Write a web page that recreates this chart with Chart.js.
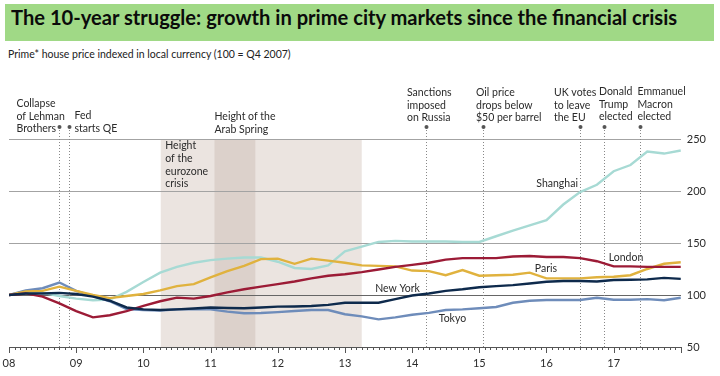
<!DOCTYPE html>
<html>
<head>
<meta charset="utf-8">
<script src="https://cdn.jsdelivr.net/npm/chart.js@4.4.0/dist/chart.umd.min.js"></script>
<style>
  body { margin: 0; width: 720px; height: 376px; overflow: hidden; background: #fff; position: relative; font-family: Lato, sans-serif; }
  #bar { position: absolute; left: 5px; top: 4px; width: 709px; height: 37px; background: #a0d986; }
  #title { position: absolute; left: 11px; top: 4px; line-height: 37px; font: bold 21px Lato; color: #0b0b0b; white-space: nowrap; transform-origin: 0 50%; }
  #sub { position: absolute; left: 8px; top: 48px; font-size: 10.5px; color: #222; }
  #wrap { position: absolute; left: 0; top: 0; width: 720px; height: 376px; }
</style>
</head>
<body>
<div id="bar"></div>
<div id="title">The 10-year struggle: growth in prime city markets since the financial crisis</div>
<div id="sub">Prime* house price indexed in local currency (100 = Q4 2007)</div>
<div id="wrap"><canvas id="chart" width="720" height="376"></canvas></div>
<script>
// quarterly index, 100 = Q4 2007
const quarters = ['Q4 07','Q1 08','Q2 08','Q3 08','Q4 08','Q1 09','Q2 09','Q3 09','Q4 09','Q1 10','Q2 10','Q3 10','Q4 10','Q1 11','Q2 11','Q3 11','Q4 11','Q1 12','Q2 12','Q3 12','Q4 12','Q1 13','Q2 13','Q3 13','Q4 13','Q1 14','Q2 14','Q3 14','Q4 14','Q1 15','Q2 15','Q3 15','Q4 15','Q1 16','Q2 16','Q3 16','Q4 16','Q1 17','Q2 17','Q3 17','Q4 17'];

const shanghai = [100,103.5,102,99,96.5,95,95.5,103,112.5,121.5,127,131,133.5,135,136,136,132,126,125,128.5,142,146.5,151,152,151.5,151.5,151.5,151,151,156.5,162,167,172,187,199,206,219,225,238,236,239];
const london   = [100,101.5,98.5,92,84.5,78.5,80.5,84.5,89.5,94,97.5,96.5,99,102.5,105.5,108,110.5,113,116,118.5,120,122,124.5,127,129,131,134,135.5,135.5,135.5,137,137.5,136.5,136.5,135.5,132.5,127.5,127.5,127,127,127];
const paris    = [100,103.5,104,108,104,100,97,99,101,104.5,108.5,110.5,117,123,128,134.5,135,130,135,133,131,128.5,128,127.5,123.5,123,119,124,118.5,119,119.5,121.5,116,116,116,117,117.5,119,125,130,131.5];
const newYork  = [100,101.5,101.5,102,101,98.5,94.5,88,86.2,85.6,86.2,87,88,87.5,87.2,88,88.8,89,89.4,90.5,92.5,92.6,92.6,96,99.5,101.5,104,105.5,107.5,108.5,109.5,111,112.8,113.5,113.5,113,114.4,114.6,115,116.5,115.5];
const tokyo    = [100,104.5,106.5,112,104,99,94,86.5,85.6,85,86.3,86.2,86.2,84,82.5,82.7,83.5,84.6,85.6,85.6,81.5,79.5,76.6,78.5,81,82.8,85.6,86.2,87.2,88.5,92.5,94.5,95.2,95.2,95.2,97.4,95.5,95.5,96,95,97.4];

const yearLabels = ['08','09','10','11','12','13','14','15','16','17'];
const yTicks = [50, 100, 150, 200, 250];

// x axis runs in months from start of 2008
const toPoints = arr => arr.map((v, i) => ({ x: i * 3, y: v }));

// periods shaded on the chart (months)
const periods = [
  { from: 27.1, to: 63, color: '#ebe4e0' },
  { from: 36.7, to: 44, color: '#dcd1cb' }
];

// events: month, text lines, text x offset from the line, y of first line
const events = [
  { m: 8.9,  lines: ['Collapse', 'of Lehman', 'Brothers'], dx: -43, y: 104 },
  { m: 10.7, lines: ['Fed', 'starts QE'], dx: 5, y: 116 },
  { m: 74.5, lines: ['Sanctions', 'imposed', 'on Russia'], dx: -19.5, y: 93 },
  { m: 84.6, lines: ['Oil price', 'drops below', '$50 per barrel'], dx: -7.5, y: 93 },
  { m: 102,  lines: ['UK votes', 'to leave', 'the EU'], dx: -26.5, y: 93 },
  { m: 106.3, lines: ['Donald', 'Trump', 'elected'], dx: -5.5, y: 92 },
  { m: 112.7, lines: ['Emmanuel', 'Macron', 'elected'], dx: -3, y: 92 }
];

const periodNotes = [
  { m: 27.1, lines: ['Height', 'of the', 'eurozone', 'crisis'], dx: 4.5, y: 146 },
  { m: 36.7, lines: ['Height of the', 'Arab Spring'], dx: 0, y: 117 }
];

const seriesNotes = [
  { text: 'Shanghai', m: 97.9, v: 206.7 },
  { text: 'London', m: 110.2, v: 135.9 },
  { text: 'Paris', m: 95.9, v: 125.7 },
  { text: 'New York', m: 69.4, v: 106.4 },
  { text: 'Tokyo', m: 79.2, v: 77.6 }
];

const labelFont = '10.5px Lato';
const textColor = '#2b2b2b';

const decor = {
  id: 'decor',
  beforeDraw(chart) {
    const { ctx, chartArea: a, scales: { x } } = chart;
    ctx.save();
    periods.forEach(p => {
      const l = x.getPixelForValue(p.from), r = x.getPixelForValue(p.to);
      ctx.fillStyle = p.color;
      ctx.fillRect(l, a.top, r - l, a.bottom - a.top);
    });
    ctx.restore();
  },
  beforeDatasetsDraw(chart) {
    const { ctx, chartArea: a, scales: { x } } = chart;
    ctx.save();
    ctx.strokeStyle = '#888';
    ctx.lineWidth = 1;
    ctx.setLineDash([1, 2]);
    events.forEach(e => {
      const px = Math.round(x.getPixelForValue(e.m)) + 0.5;
      ctx.beginPath();
      ctx.moveTo(px, 130);
      ctx.lineTo(px, a.bottom);
      ctx.stroke();
    });
    ctx.restore();
  },
  afterDraw(chart) {
    const { ctx, chartArea: a, scales: { x, y } } = chart;
    ctx.save();
    // axis tick marks, monthly, longer at years
    ctx.strokeStyle = '#555';
    ctx.lineWidth = 1;
    x.ticks.forEach(t => {
      const px = Math.round(x.getPixelForValue(t.value)) + 0.5;
      ctx.beginPath();
      ctx.moveTo(px, a.bottom);
      ctx.lineTo(px, a.bottom + (t.value % 12 === 0 ? 6 : 3));
      ctx.stroke();
    });
    // event markers and labels
    ctx.font = labelFont;
    ctx.fillStyle = textColor;
    ctx.textBaseline = 'middle';
    events.forEach(e => {
      const px = Math.round(x.getPixelForValue(e.m)) + 0.5;
      ctx.fillStyle = '#555';
      ctx.beginPath();
      ctx.arc(px, 127, 2, 0, Math.PI * 2);
      ctx.fill();
      ctx.fillStyle = textColor;
      e.lines.forEach((s, i) => ctx.fillText(s, px + e.dx, e.y + i * 12.2));
    });
    periodNotes.forEach(n => {
      const px = x.getPixelForValue(n.m);
      n.lines.forEach((s, i) => ctx.fillText(s, px + n.dx, n.y + i * 12.7));
    });
    ctx.textAlign = 'center';
    seriesNotes.forEach(n => {
      ctx.fillText(n.text, x.getPixelForValue(n.m), y.getPixelForValue(n.v));
    });
    ctx.restore();
  }
};

new Chart(document.getElementById('chart'), {
  type: 'line',
  data: {
    datasets: [
      { label: 'New York', data: toPoints(newYork), borderColor: '#0e2a4c' },
      { label: 'London', data: toPoints(london), borderColor: '#9c1b36' },
      { label: 'Paris', data: toPoints(paris), borderColor: '#e0b23e' },
      { label: 'Tokyo', data: toPoints(tokyo), borderColor: '#6e8cba' },
      { label: 'Shanghai', data: toPoints(shanghai), borderColor: '#a7dad4' }
    ]
  },
  options: {
    responsive: false,
    animation: false,
    devicePixelRatio: 1,
    layout: { padding: { left: 9, top: 139, right: 8, bottom: 4 } },
    elements: {
      line: { borderWidth: 2.4, tension: 0 },
      point: { radius: 0 }
    },
    plugins: { legend: { display: false }, tooltip: { enabled: false } },
    scales: {
      x: {
        type: 'linear',
        min: 0,
        max: 120,
        grid: { display: false, drawTicks: false },
        border: { display: true, color: '#555', width: 1 },
        afterFit: s => { s.height = 25; s.paddingLeft = 0; s.paddingRight = 0; },
        ticks: {
          stepSize: 1,
          autoSkip: false,
          maxRotation: 0,
          padding: 10,
          color: textColor,
          font: { family: 'Lato', size: 11 },
          callback: v => (v % 12 === 0 && v < 120) ? yearLabels[v / 12] : ''
        }
      },
      y: {
        position: 'right',
        min: 50,
        max: 250,
        afterBuildTicks: s => { s.ticks = yTicks.map(v => ({ value: v })); },
        grid: {
          drawTicks: false,
          color: c => c.tick.value === 100 ? '#666' : (c.tick.value === 50 ? 'rgba(0,0,0,0)' : '#a3a3a3')
        },
        border: { display: false },
        ticks: {
          padding: 6,
          color: textColor,
          font: { family: 'Lato', size: 11 }
        }
      }
    }
  },
  plugins: [decor]
});

// squeeze the headline to the width of the band, as in the original
const t = document.getElementById('title');
t.style.transform = 'scaleX(' + (666 / t.offsetWidth) + ')';
</script>
</body>
</html>
